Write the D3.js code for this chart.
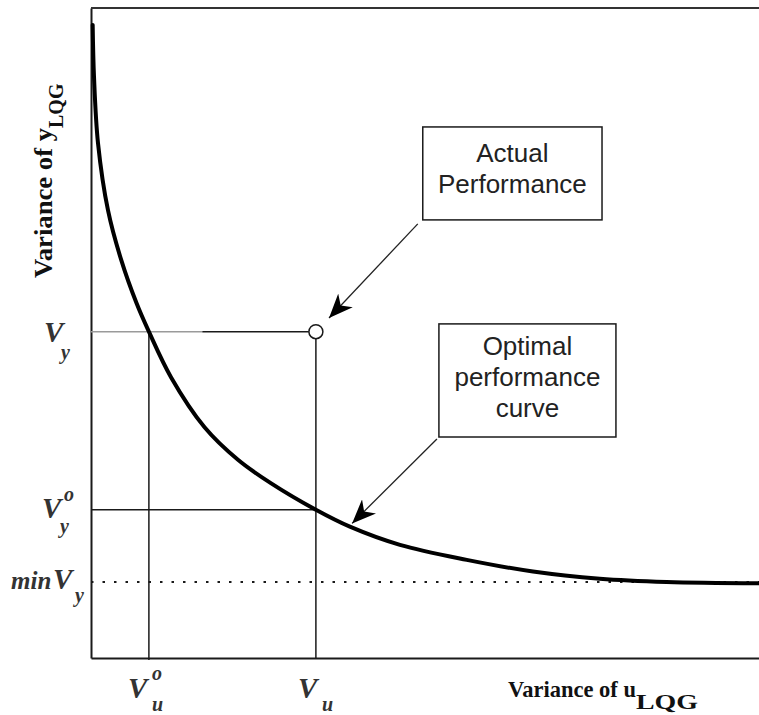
<!DOCTYPE html>
<html>
<head>
<meta charset="utf-8">
<script src="https://cdn.jsdelivr.net/npm/d3@7"></script>
<style>
  html, body { margin: 0; padding: 0; background: #fff; }
  svg { display: block; }
  .serif { font-family: "Liberation Serif", "Times New Roman", serif; }
  .sans { font-family: "Liberation Sans", Arial, sans-serif; }
</style>
</head>
<body>
<svg id="chart" width="759" height="715"></svg>
<script>
// Optimal performance curve: variance of u (x) against variance of y (y)
const curveU = [0.03, 0.054, 0.126, 0.305, 0.544, 0.817, 1.04, 1.437, 2.04, 2.64, 3.23, 4.04, 4.65, 5.55, 6.75, 7.94, 9.14, 10.34, 12.0];
const curveY = [9.74, 8.94, 7.92, 6.89, 6.12, 5.46, 5.02, 4.32, 3.55, 3.05, 2.69, 2.28, 2.02, 1.74, 1.51, 1.33, 1.22, 1.17, 1.15];

// Reference levels
const vuOpt = 1.04;     // V_u^o
const vuActual = 4.04;  // V_u
const vyActual = 5.02;  // V_y
const vyOpt = 2.28;     // V_y^o
const vyMin = 1.17;     // min V_y

// Callout boxes (data units) and their arrow targets
const boxActual = { x0: 5.96, x1: 9.18, y0: 8.17, y1: 6.74, lines: ["Actual", "Performance"] };
const boxOptimal = { x0: 6.25, x1: 9.43, y0: 5.14, y1: 3.40, lines: ["Optimal", "performance", "curve"] };
const curveTarget = [4.69, 2.04];

const svg = d3.select("#chart");
const x = d3.scaleLinear().domain([0, 12]).range([91, 759]);
const y = d3.scaleLinear().domain([0, 10]).range([658, 8]);
const ink = "#1a1a1a";

// frame: left and bottom axes, top border
svg.append("g").attr("transform", `translate(0,${y(0)})`)
  .call(d3.axisBottom(x).tickValues([]).tickSizeOuter(0))
  .call(g => g.select(".domain").attr("stroke", ink).attr("stroke-width", 2));
svg.append("g").attr("transform", `translate(${x(0)},0)`)
  .call(d3.axisLeft(y).tickValues([]).tickSizeOuter(0))
  .call(g => g.select(".domain").attr("stroke", ink).attr("stroke-width", 2));
svg.append("line")
  .attr("x1", x(0)).attr("x2", x(12)).attr("y1", y(10)).attr("y2", y(10))
  .attr("stroke", "#333").attr("stroke-width", 2);

// min V_y dotted asymptote
svg.append("line")
  .attr("x1", x(0)).attr("x2", x(12)).attr("y1", y(vyMin)).attr("y2", y(vyMin))
  .attr("stroke", ink).attr("stroke-width", 2).attr("stroke-dasharray", "2.5,9");

// V_y guide: lighter stretch then dark up to the actual point
const vyBreak = 2.0;
svg.append("line")
  .attr("x1", x(0)).attr("x2", x(vyBreak)).attr("y1", y(vyActual)).attr("y2", y(vyActual))
  .attr("stroke", "#9a9a9a").attr("stroke-width", 1.5);
svg.append("line")
  .attr("x1", x(vyBreak)).attr("x2", x(vuActual) - 7).attr("y1", y(vyActual)).attr("y2", y(vyActual))
  .attr("stroke", ink).attr("stroke-width", 1.5);

// V_y^o guide
svg.append("line")
  .attr("x1", x(0)).attr("x2", x(vuActual)).attr("y1", y(vyOpt)).attr("y2", y(vyOpt))
  .attr("stroke", ink).attr("stroke-width", 1.5);

// V_u^o and V_u verticals
svg.append("line")
  .attr("x1", x(vuOpt)).attr("x2", x(vuOpt)).attr("y1", y(vyActual)).attr("y2", y(0) + 2)
  .attr("stroke", ink).attr("stroke-width", 1.5);
svg.append("line")
  .attr("x1", x(vuActual)).attr("x2", x(vuActual)).attr("y1", y(vyActual) + 7).attr("y2", y(0))
  .attr("stroke", ink).attr("stroke-width", 1.5);

// optimal performance curve
const pts = curveU.map((u, i) => [u, curveY[i]]);
svg.append("path")
  .datum(pts)
  .attr("fill", "none").attr("stroke", "#000").attr("stroke-width", 4)
  .attr("stroke-linecap", "round")
  .attr("d", d3.line().x(d => x(d[0])).y(d => y(d[1])).curve(d3.curveCatmullRom.alpha(0.5)));

// actual performance point
svg.append("circle")
  .attr("cx", x(vuActual)).attr("cy", y(vyActual)).attr("r", 7)
  .attr("fill", "#fff").attr("stroke", ink).attr("stroke-width", 1.5);

// arrowhead marker
svg.append("defs").append("marker")
  .attr("id", "head").attr("markerUnits", "userSpaceOnUse")
  .attr("viewBox", "0 -10 24 20").attr("refX", 24).attr("refY", 0)
  .attr("markerWidth", 24).attr("markerHeight", 20).attr("orient", "auto")
  .append("path").attr("d", "M0,-10 L24,0 L0,10 L7,0 Z").attr("fill", "#000");

// callout boxes
function callout(b, lineGap, firstBase) {
  const bx = x(b.x0), by = y(b.y0), bw = x(b.x1) - x(b.x0), bh = y(b.y1) - y(b.y0);
  svg.append("rect").attr("x", bx).attr("y", by).attr("width", bw).attr("height", bh)
    .attr("fill", "#fff").attr("stroke", ink).attr("stroke-width", 1.5);
  const t = svg.append("text").attr("class", "sans").attr("text-anchor", "middle")
    .attr("font-size", 26).attr("fill", "#222");
  b.lines.forEach((s, i) => {
    t.append("tspan").attr("x", bx + bw / 2).attr("y", by + firstBase + i * lineGap).text(s);
  });
  return [bx, by + bh];
}

const c1 = callout(boxActual, 31, 35);
const cx1 = x(vuActual), cy1 = y(vyActual);
{
  const dx = c1[0] - cx1, dy = c1[1] - cy1, len = Math.hypot(dx, dy);
  const off = 19;
  svg.append("line")
    .attr("x1", c1[0] - 5).attr("y1", c1[1] + 4)
    .attr("x2", cx1 + dx / len * off).attr("y2", cy1 + dy / len * off)
    .attr("stroke", "#222").attr("stroke-width", 1.3).attr("marker-end", "url(#head)");
}

const c2 = callout(boxOptimal, 31, 31);
svg.append("line")
  .attr("x1", c2[0] - 2).attr("y1", c2[1] + 2)
  .attr("x2", x(curveTarget[0])).attr("y2", y(curveTarget[1]) - 2)
  .attr("stroke", "#222").attr("stroke-width", 1.3).attr("marker-end", "url(#head)");

// axis titles
const titleX = svg.append("text").attr("class", "serif").attr("font-weight", "bold")
  .attr("fill", "#111").attr("x", 508).attr("y", 697);
titleX.append("tspan").attr("font-size", 23)
  .attr("textLength", 128).attr("lengthAdjust", "spacingAndGlyphs").text("Variance of u");
titleX.append("tspan").attr("font-size", 20).attr("dy", 12)
  .attr("textLength", 62).attr("lengthAdjust", "spacingAndGlyphs").text("LQG");

const titleY = svg.append("text").attr("class", "serif").attr("font-weight", "bold")
  .attr("fill", "#111").attr("transform", "translate(52,278) rotate(-90)");
titleY.append("tspan").attr("font-size", 26)
  .attr("textLength", 150).attr("lengthAdjust", "spacingAndGlyphs").text("Variance of y");
titleY.append("tspan").attr("font-size", 20).attr("dy", 11).text("LQG");

// level labels (bold italic serif): main glyph plus positioned sub/superscripts
function label(parts) {
  const t = svg.append("text").attr("class", "serif").attr("font-weight", "bold")
    .attr("font-style", "italic").attr("fill", "#333");
  parts.forEach(p => {
    t.append("tspan").attr("x", p.x).attr("y", p.y).attr("font-size", p.size).text(p.s);
  });
}
// y-axis side
label([{ x: 44, y: y(vyActual) + 10, s: "V", size: 29 },
       { x: 61, y: y(vyActual) + 27, s: "y", size: 20 }]);
label([{ x: 42, y: y(vyOpt) + 8, s: "V", size: 29 },
       { x: 64, y: y(vyOpt) - 9, s: "o", size: 20 },
       { x: 60, y: y(vyOpt) + 23, s: "y", size: 20 }]);
label([{ x: 11, y: y(vyMin) + 7, s: "min", size: 25 },
       { x: 53, y: y(vyMin) + 7, s: "V", size: 29 },
       { x: 75, y: y(vyMin) + 20, s: "y", size: 20 }]);
// x-axis side
label([{ x: x(vuOpt) - 21, y: 698, s: "V", size: 29 },
       { x: x(vuOpt) + 3, y: 680, s: "o", size: 20 },
       { x: x(vuOpt) + 3, y: 711, s: "u", size: 20 }]);
label([{ x: x(vuActual) - 18, y: 698, s: "V", size: 29 },
       { x: x(vuActual) + 6, y: 711, s: "u", size: 20 }]);
</script>
</body>
</html>
